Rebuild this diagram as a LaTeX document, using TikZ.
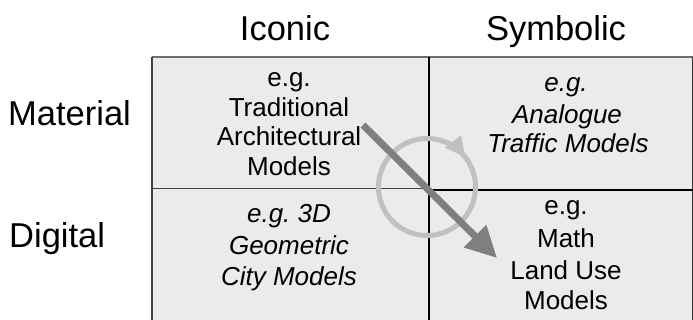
\documentclass[tikz,border=0pt]{standalone}
\usepackage{fontspec}
\setmainfont{Liberation Sans}
\usetikzlibrary{arrows.meta}
\definecolor{cellfill}{HTML}{EBEBEB}
\definecolor{topline}{HTML}{6E6E6E}
\definecolor{darkarrow}{HTML}{7F7F7F}
\definecolor{ringcol}{HTML}{C0C0C0}
\begin{document}
\begin{tikzpicture}[x=1pt,y=-1pt,
  hdr/.style={font=\fontsize{34.5}{40}\selectfont, inner sep=0pt, anchor=base},
  hdrleft/.style={hdr, anchor=base west},
  cellline/.style={font=\fontsize{26}{30}\selectfont, inner sep=0pt, anchor=base},
  itline/.style={cellline, font=\fontsize{26}{30}\selectfont\itshape},
  gridline/.style={line width=1.5pt, draw=black},
]
\useasboundingbox (0,0) rectangle (693,320);
% cells
\fill[cellfill] (152,57) rectangle (693,320);
% grid
\draw[line width=2.5pt, topline] (152,57) -- (693,57);
\draw[line width=1.2pt, black!75] (152,57) -- (152,320);
\draw[line width=1pt, black!80] (692.5,57) -- (692.5,320);
\draw[gridline] (429,57) -- (429,320);
\draw[line width=1.2pt, black!75] (152,188.5) -- (429,188.5);
\draw[line width=2pt, black] (429,190) -- (693,190);
% ring with arrow
\coordinate (c) at (427,187);
\draw[ringcol, line width=5pt] (c) circle[radius=48.5];
\draw[ringcol, line width=5pt, -{Triangle[length=20pt,width=19pt]}]
  (c) ++(-75:48.5) arc[start angle=-75, end angle=-38, radius=48.5];
% dark arrow
\coordinate (as) at (363,125);
\coordinate (ae) at (497,258);
\draw[darkarrow, line width=7pt, -{Triangle[length=31pt,width=30pt]}] (as) -- (ae);
% headers
\node[hdr] (iconic) at (285,40.5) {Iconic};
\node[hdr] (symbolic) at (556,40.5) {Symbolic};
\node[hdrleft] (material) at (8,125.5) {Material};
\node[hdrleft] (digital) at (9,248) {Digital};
% top-left
\node[cellline] (tl1) at (289,86.5) {e.g.};
\node[cellline] (tl2) at (289,116.5) {Traditional};
\node[cellline] (tl3) at (289,146) {Architectural};
\node[cellline] (tl4) at (289,175.5) {Models};
% top-right
\node[itline] (tr1) at (566,92) {e.g.};
\node[itline] (tr2) at (567,123.5) {Analogue};
\node[itline] (tr3) at (568,153) {Traffic Models};
% bottom-left
\node[itline] (bl1) at (289,223) {e.g.\ 3D};
\node[itline] (bl2) at (289,254.5) {Geometric};
\node[itline] (bl3) at (289,286) {City Models};
% bottom-right
\node[cellline] (br1) at (566,214.5) {e.g.};
\node[cellline] (br2) at (566,248) {Math};
\node[cellline] (br3) at (566,279.5) {Land Use};
\node[cellline] (br4) at (566,309.5) {Models};
\end{tikzpicture}
\end{document}
